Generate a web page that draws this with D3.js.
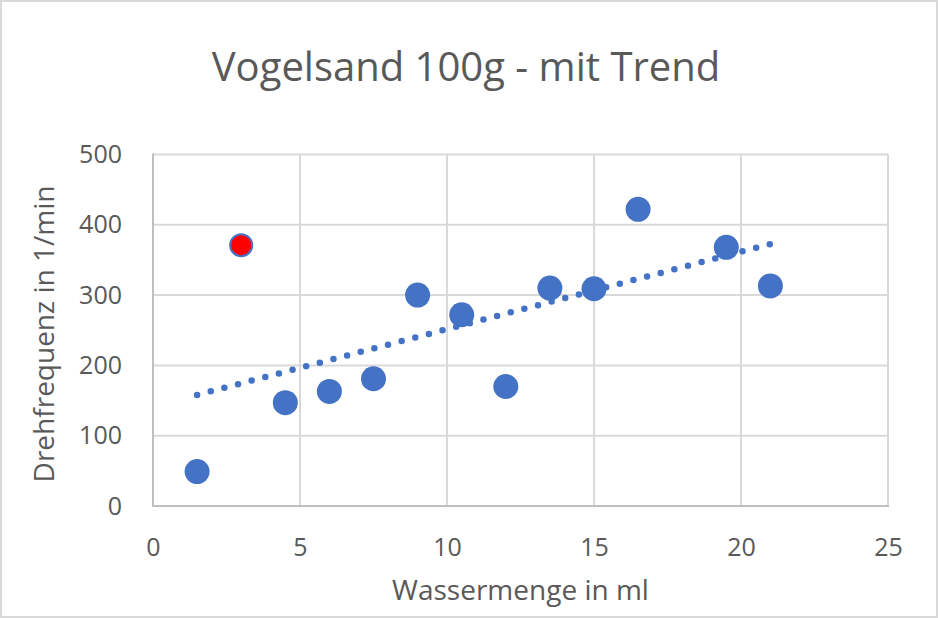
<!DOCTYPE html>
<html>
<head>
<meta charset="utf-8">
<script src="https://cdn.jsdelivr.net/npm/d3@7"></script>
<style>
  html, body { margin: 0; padding: 0; background: #fff; }
  svg { display: block; }
  text { font-family: "Open Sans", sans-serif; fill: #595959; }
</style>
</head>
<body>
<svg id="chart" width="938" height="618"></svg>
<script>
// ---- data ----
const title = "Vogelsand 100g - mit Trend";
const xTitle = "Wassermenge in ml";
const yTitle = "Drehfrequenz in 1/min";
const waterMl = [1.5, 3, 4.5, 6, 7.5, 9, 10.5, 12, 13.5, 15, 16.5, 19.5, 21];
const rotationRpm = [49, 371, 147, 163, 181, 300, 272, 170, 310, 309, 422, 368, 313];
const highlightIndex = [1];
const xTicks = [0, 5, 10, 15, 20, 25];
const yTicks = [0, 100, 200, 300, 400, 500];

// ---- layout ----
const W = 938, H = 618;
const plot = { left: 153, right: 888, top: 154.5, bottom: 506 };
const blue = "#4472c4";

const svg = d3.select("#chart");

svg.append("rect")
  .attr("x", 1).attr("y", 1).attr("width", W - 2).attr("height", H - 2)
  .attr("fill", "#fff").attr("stroke", "#d9d9d9").attr("stroke-width", 2);

const x = d3.scaleLinear().domain([0, 25]).range([plot.left, plot.right]);
const y = d3.scaleLinear().domain([0, 500]).range([plot.bottom, plot.top]);

// gridlines
const g = svg.append("g");
g.selectAll(".hg").data(yTicks.filter(d => d > 0)).enter().append("line")
  .attr("x1", plot.left).attr("x2", plot.right)
  .attr("y1", d => y(d)).attr("y2", d => y(d))
  .attr("stroke", "#d9d9d9").attr("stroke-width", 2);
g.selectAll(".vg").data(xTicks.filter(d => d > 0)).enter().append("line")
  .attr("y1", plot.top).attr("y2", plot.bottom)
  .attr("x1", d => x(d)).attr("x2", d => x(d))
  .attr("stroke", "#d9d9d9").attr("stroke-width", 2);

// axes lines
svg.append("line").attr("x1", plot.left).attr("x2", plot.left)
  .attr("y1", plot.top - 1).attr("y2", plot.bottom + 1)
  .attr("stroke", "#bfbfbf").attr("stroke-width", 2);
svg.append("line").attr("x1", plot.left - 1).attr("x2", plot.right + 1)
  .attr("y1", plot.bottom).attr("y2", plot.bottom)
  .attr("stroke", "#bfbfbf").attr("stroke-width", 2);

// axis tick labels via d3 axes
const yAxis = d3.axisLeft(y).tickValues(yTicks).tickSize(0).tickPadding(31);
const yg = svg.append("g").attr("transform", `translate(${plot.left},0)`).call(yAxis);
const xAxis = d3.axisBottom(x).tickValues(xTicks).tickSize(0).tickPadding(32);
const xg = svg.append("g").attr("transform", `translate(0,${plot.bottom})`).call(xAxis);
[yg, xg].forEach(a => {
  a.select(".domain").remove();
  a.selectAll("text").style("font-family", '"Open Sans", sans-serif')
    .style("font-size", "25px").attr("fill", "#595959");
});

// trendline (least squares)
const n = waterMl.length;
const mx = d3.mean(waterMl), my = d3.mean(rotationRpm);
let sxy = 0, sxx = 0;
for (let i = 0; i < n; i++) {
  sxy += (waterMl[i] - mx) * (rotationRpm[i] - my);
  sxx += (waterMl[i] - mx) ** 2;
}
const slope = sxy / sxx, intercept = my - slope * mx;
const x0 = d3.min(waterMl), x1 = d3.max(waterMl);

// points
svg.append("g").selectAll("circle").data(waterMl.map((d, i) => [d, rotationRpm[i], i]))
  .enter().append("circle")
  .attr("cx", d => x(d[0])).attr("cy", d => y(d[1]))
  .attr("r", d => highlightIndex.includes(d[2]) ? 11 : 12.5)
  .attr("fill", d => highlightIndex.includes(d[2]) ? "#ff0000" : blue)
  .attr("stroke", d => highlightIndex.includes(d[2]) ? blue : "none")
  .attr("stroke-width", 2);

svg.append("line")
  .attr("x1", x(x0)).attr("y1", y(slope * x0 + intercept))
  .attr("x2", x(x1)).attr("y2", y(slope * x1 + intercept))
  .attr("stroke", blue).attr("stroke-width", 6.5)
  .attr("stroke-linecap", "round").attr("stroke-dasharray", "0 14.1");

// titles
svg.append("text").attr("x", 466).attr("y", 81)
  .attr("text-anchor", "middle").style("font-size", "40px").text(title);
svg.append("text").attr("x", (plot.left + plot.right) / 2).attr("y", 600)
  .attr("text-anchor", "middle").style("font-size", "28px").text(xTitle);
svg.append("text").attr("transform", `translate(54,334) rotate(-90)`)
  .attr("text-anchor", "middle").style("font-size", "28px").text(yTitle);
</script>
</body>
</html>
